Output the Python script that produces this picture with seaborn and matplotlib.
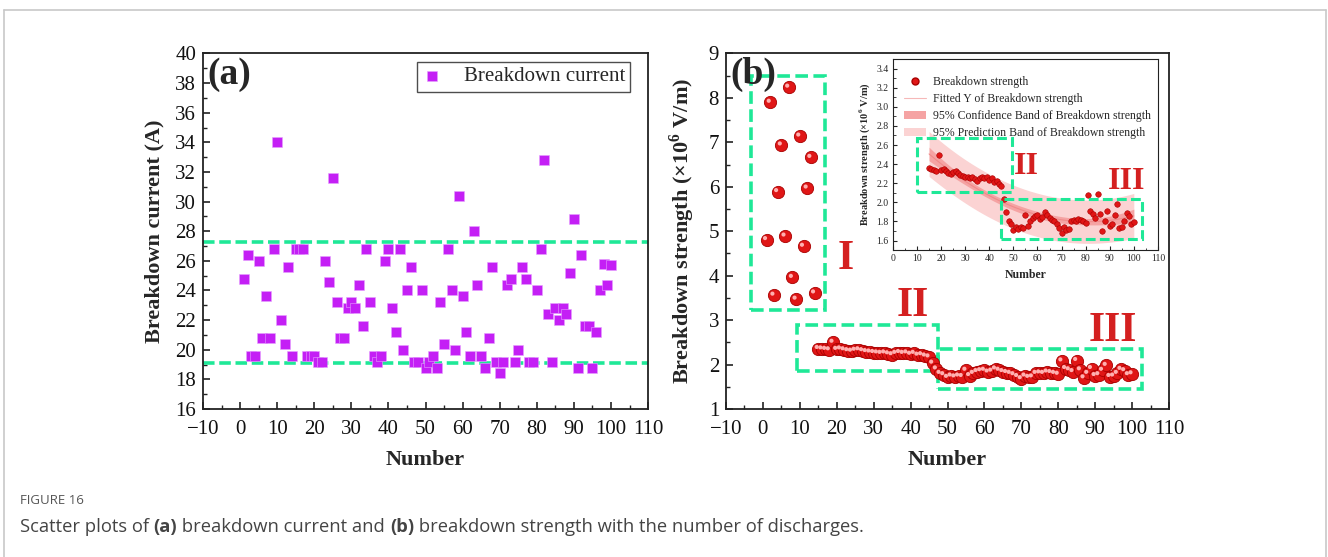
import numpy as np
import pandas as pd
import seaborn as sns
import matplotlib
matplotlib.use("Agg")
import matplotlib.pyplot as plt
from matplotlib.patches import Rectangle, Patch
from matplotlib.lines import Line2D
from matplotlib.ticker import MultipleLocator
import matplotlib.transforms as mtransforms

# ---------------- data ----------------
number = list(range(1, 101))
current = [24.8, 26.4, 19.6, 19.6, 26.0, 20.8, 23.6, 20.8, 26.8, 34.0,
           22.0, 20.4, 25.6, 19.6, 26.8, 26.8, 26.8, 19.6, 19.6, 19.6,
           19.2, 19.2, 26.0, 24.6, 31.6, 23.2, 20.8, 20.8, 22.8, 23.2,
           22.8, 24.4, 21.6, 26.8, 23.2, 19.6, 19.2, 19.6, 26.0, 26.8,
           22.8, 21.2, 26.8, 20.0, 24.0, 25.6, 19.2, 19.2, 24.0, 18.8,
           19.2, 19.6, 18.8, 23.2, 20.4, 26.8, 24.0, 20.0, 30.4, 23.6,
           21.2, 19.6, 28.0, 24.4, 19.6, 18.8, 20.8, 25.6, 19.2, 18.4,
           19.2, 24.4, 24.8, 19.2, 20.0, 25.6, 24.8, 19.2, 19.2, 24.0,
           26.8, 32.8, 22.4, 19.2, 22.8, 22.0, 22.8, 22.4, 25.2, 28.8,
           18.8, 26.4, 21.6, 21.6, 18.8, 21.2, 24.0, 25.8, 24.4, 25.7]
strength = [4.81, 7.90, 3.56, 5.89, 6.94, 4.89, 8.24, 3.96, 3.47, 7.14,
            4.66, 5.97, 6.66, 3.61, 2.36, 2.35, 2.34, 2.33, 2.50, 2.34,
            2.35, 2.33, 2.31, 2.30, 2.32, 2.33, 2.31, 2.29, 2.28, 2.27,
            2.26, 2.25, 2.26, 2.24, 2.22, 2.25, 2.27, 2.25, 2.26, 2.23,
            2.25, 2.21, 2.22, 2.19, 2.17, 2.03, 1.90, 1.80, 1.77, 1.71,
            1.74, 1.72, 1.74, 1.73, 1.87, 1.75, 1.80, 1.84, 1.86, 1.87,
            1.83, 1.85, 1.90, 1.87, 1.84, 1.82, 1.80, 1.77, 1.73, 1.68,
            1.74, 1.71, 1.72, 1.80, 1.81, 1.80, 1.83, 1.82, 1.80, 1.78,
            2.08, 1.91, 1.88, 1.84, 2.09, 1.88, 1.70, 1.80, 1.91, 1.75,
            1.77, 1.87, 1.98, 1.73, 1.74, 1.80, 1.89, 1.86, 1.77, 1.79]
current_bounds = [27.3, 19.1]
fit_start = 15
region_boxes = {"I": (-3.2, 16.9, 3.22, 8.5), "II": (9.2, 47.5, 1.86, 2.88),
                "III": (47.5, 102.8, 1.46, 2.35)}
region_labels = {"I": (22.3, 4.38), "II": (40.5, 3.32), "III": (94.9, 2.75)}
inset_boxes = {"II": (10.1, 49.3, 2.11, 2.67), "III": (44.7, 103.5, 1.62, 2.04)}
inset_labels = {"II": (55.6, 2.38), "III": (97.2, 2.22)}

df_a = pd.DataFrame({"Number": number, "Current": current})
df_b = pd.DataFrame({"Number": number, "Strength": strength})
df_fit = df_b[df_b["Number"] >= fit_start].reset_index(drop=True)

# quadratic fit with confidence / prediction bands
xf = df_fit["Number"].to_numpy(float)
yf = df_fit["Strength"].to_numpy(float)
coef = np.polyfit(xf, yf, 2)
X = np.vstack([xf ** 2, xf, np.ones_like(xf)]).T
resid = yf - X @ coef
dof = len(xf) - 3
s2 = resid @ resid / dof
XtXi = np.linalg.inv(X.T @ X)
xg = np.linspace(xf.min(), xf.max(), 200)
Xg = np.vstack([xg ** 2, xg, np.ones_like(xg)]).T
yg = Xg @ coef
lev = np.einsum("ij,jk,ik->i", Xg, XtXi, Xg)
tval = 1.989
conf = tval * np.sqrt(s2 * lev)
pred = tval * np.sqrt(s2 * (1 + lev))
df_curve = pd.DataFrame({"Number": xg, "Fit": yg})

# ---------------- style ----------------
sns.set_theme(style="ticks")
plt.rcParams["font.family"] = ["Liberation Serif", "DejaVu Serif"]
plt.rcParams["mathtext.fontset"] = "custom"
plt.rcParams["mathtext.rm"] = "Liberation Serif"
plt.rcParams["mathtext.bf"] = "Liberation Serif:bold"
plt.rcParams["axes.linewidth"] = 1.3
plt.rcParams["axes.edgecolor"] = "#222222"

purple = "#c41ff5"
green = "#1fe897"
red = "#e01616"
label_red = "#d42020"

fig = plt.figure(figsize=(13.28, 5.57), dpi=100)
fig.patch.set_facecolor("white")


def style_axes(ax, fs):
    ax.tick_params(which="both", direction="in", top=False, right=False,
                   colors="#222222", labelcolor="#111111")
    ax.tick_params(which="major", length=5, width=1.2, labelsize=fs)
    ax.tick_params(axis="x", which="major", pad=8)
    ax.tick_params(axis="y", which="major", pad=5)
    ax.tick_params(which="minor", length=3, width=1.0)
    for sp in ax.spines.values():
        sp.set_visible(True)


# ---------------- panel (a) ----------------
ax1 = fig.add_axes([0.1529, 0.2657, 0.3351, 0.6383])
sns.scatterplot(data=df_a, x="Number", y="Current", marker="s", s=62,
                color=purple, edgecolor="#e6a0ff", linewidth=0.4,
                ax=ax1, label="Breakdown current", zorder=3)
for yb in current_bounds:
    ax1.axhline(yb, color=green, lw=2.6, ls=(0, (3.2, 1.3)), zorder=2)
ax1.set_xlim(-10, 110)
ax1.set_ylim(16, 40)
ax1.xaxis.set_major_locator(MultipleLocator(10))
ax1.xaxis.set_minor_locator(MultipleLocator(5))
ax1.yaxis.set_major_locator(MultipleLocator(2))
ax1.yaxis.set_minor_locator(MultipleLocator(1))
style_axes(ax1, 15)
ax1.set_xlabel("Number", fontsize=16, fontweight="bold", labelpad=8)
ax1.set_ylabel("Breakdown current (A)", fontsize=16, fontweight="bold", labelpad=8)
ax1.text(0.01, 0.99, "(a)", transform=ax1.transAxes, fontsize=27,
         fontweight="bold", va="top", ha="left")
leg = ax1.legend(loc="upper right", bbox_to_anchor=(0.96, 0.977), fontsize=15,
                 frameon=True, fancybox=False, edgecolor="#222222",
                 handlelength=1.0, handletextpad=1.0, borderpad=0.25,
                 borderaxespad=0.0, markerscale=1.0)
leg.get_frame().set_linewidth(1.0)

# ---------------- panel (b) ----------------
ax2 = fig.add_axes([0.5467, 0.2657, 0.3336, 0.6383])
sns.scatterplot(data=df_b, x="Number", y="Strength", marker="o", s=78,
                color=red, edgecolor="#a80000", linewidth=0.6, ax=ax2,
                legend=False, zorder=3)
hl2 = mtransforms.offset_copy(ax2.transData, fig=fig, x=-1.6, y=1.6, units="dots")
ax2.scatter(df_b["Number"], df_b["Strength"], s=9, color="#ffb0b0",
            edgecolors="none", transform=hl2, zorder=4)
for key, (x0, x1, y0, y1) in region_boxes.items():
    ax2.add_patch(Rectangle((x0, y0), x1 - x0, y1 - y0, fill=False,
                            edgecolor=green, lw=2.6, ls=(0, (3.5, 1.5)), zorder=2))
for key, (lx, ly) in region_labels.items():
    ax2.text(lx, ly, key, color=label_red, fontsize=30, fontweight="bold",
             ha="center", va="center")
ax2.set_xlim(-10, 110)
ax2.set_ylim(1, 9)
ax2.xaxis.set_major_locator(MultipleLocator(10))
ax2.xaxis.set_minor_locator(MultipleLocator(5))
ax2.yaxis.set_major_locator(MultipleLocator(1))
ax2.yaxis.set_minor_locator(MultipleLocator(0.5))
style_axes(ax2, 15)
ax2.set_xlabel("Number", fontsize=16, fontweight="bold", labelpad=8)
ax2.set_ylabel("Breakdown strength (×10$^{\\mathbf{6}}$ V/m)", fontsize=16,
               fontweight="bold", labelpad=8)
ax2.text(0.01, 0.99, "(b)", transform=ax2.transAxes, fontsize=27,
         fontweight="bold", va="top", ha="left")

# ---------------- inset ----------------
ax3 = fig.add_axes([0.6724, 0.551, 0.1995, 0.343])
ax3.fill_between(xg, yg - pred, yg + pred, color="#fbd3d3", lw=0, zorder=1)
ax3.fill_between(xg, yg - conf, yg + conf, color="#f5a3a3", lw=0, zorder=2)
sns.lineplot(data=df_curve, x="Number", y="Fit", color="#f08a8a", lw=0.8,
             ax=ax3, zorder=3)
sns.scatterplot(data=df_fit, x="Number", y="Strength", marker="o", s=16,
                color=red, edgecolor="#a80000", linewidth=0.4, ax=ax3,
                legend=False, zorder=4)
for key, (x0, x1, y0, y1) in inset_boxes.items():
    ax3.add_patch(Rectangle((x0, y0), x1 - x0, y1 - y0, fill=False,
                            edgecolor=green, lw=2.2, ls=(0, (3.2, 1.4)), zorder=5))
for key, (lx, ly) in inset_labels.items():
    ax3.text(lx, ly, key, color=label_red, fontsize=23, fontweight="bold",
             ha="center", va="center", zorder=6)
ax3.set_xlim(0, 110)
ax3.set_ylim(1.5, 3.5)
ax3.xaxis.set_major_locator(MultipleLocator(10))
ax3.xaxis.set_minor_locator(MultipleLocator(5))
ax3.yaxis.set_minor_locator(MultipleLocator(0.1))
ax3.set_yticks(np.arange(1.6, 3.41, 0.2))
ax3.yaxis.set_major_formatter(matplotlib.ticker.FormatStrFormatter("%.1f"))
ax3.tick_params(which="both", direction="in", top=False, right=False)
ax3.tick_params(which="major", length=3, width=0.8, labelsize=7, pad=3)
ax3.tick_params(which="minor", length=1.8, width=0.6)
for sp in ax3.spines.values():
    sp.set_linewidth(0.8)
ax3.set_xlabel("Number", fontsize=8.5, fontweight="bold", labelpad=4)
ax3.set_ylabel("Breakdown strength (×10$^{\\mathbf{6}}$ V/m)", fontsize=7.5,
               fontweight="bold", labelpad=3)
handles = [Line2D([], [], marker="o", ls="none", color=red, markeredgecolor="#a80000",
                  markersize=5),
           Line2D([], [], color="#f6b8b8", lw=0.8),
           Patch(facecolor="#f5a3a3", edgecolor="none"),
           Patch(facecolor="#fbd3d3", edgecolor="none")]
labels = ["Breakdown strength", "Fitted Y of Breakdown strength",
          "95% Confidence Band of Breakdown strength",
          "95% Prediction Band of Breakdown strength"]
ax3.legend(handles, labels, loc="upper left", bbox_to_anchor=(0.01, 0.955),
           fontsize=8.5, frameon=False, handlelength=1.9, handletextpad=0.6,
           labelspacing=0.42, borderpad=0.2)

# ---------------- frame and caption ----------------
W, H = 1328, 557
frame_col = "#c8c8c8"
fig.add_artist(Line2D([4 / W, 4 / W], [0, 1 - 10 / H], transform=fig.transFigure,
                      color=frame_col, lw=1.2))
fig.add_artist(Line2D([4 / W, 1326 / W], [1 - 10 / H, 1 - 10 / H],
                      transform=fig.transFigure, color=frame_col, lw=1.2))
fig.add_artist(Line2D([1326 / W, 1326 / W], [0, 1 - 10 / H],
                      transform=fig.transFigure, color=frame_col, lw=1.2))

cap_font = ["Open Sans", "DejaVu Sans"]
fig.text(20 / W, 1 - 501 / H, "FIGURE 16", family=cap_font, fontsize=9.5,
         color="#555555", va="center", ha="left")
pieces = [("Scatter plots of ", "normal"), ("(a)", "bold"),
          (" breakdown current and ", "normal"), ("(b)", "bold"),
          (" breakdown strength with the number of discharges.", "normal")]
fig.canvas.draw()
renderer = fig.canvas.get_renderer()
xpos = 20.0
for txt, wt in pieces:
    t = fig.text(xpos / W, 1 - 527 / H, txt, family=cap_font, fontsize=13.2,
                 fontweight=wt, color="#444444", va="center", ha="left")
    bb = t.get_window_extent(renderer=renderer)
    xpos += bb.width

fig.savefig("out.png", dpi=100, facecolor="white")
